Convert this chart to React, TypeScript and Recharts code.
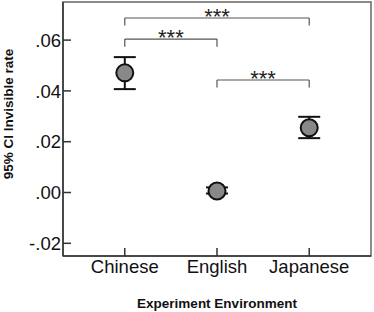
import { ScatterChart, Scatter, XAxis, YAxis, ErrorBar, ReferenceLine, ReferenceDot, ReferenceArea } from 'recharts';

const categories = ['Chinese', 'English', 'Japanese'];
const means = [0.0471, 0.0006, 0.0255];
const lower = [0.0407, -0.0004, 0.0214];
const upper = [0.0533, 0.002, 0.0298];
const yTicks = [-0.02, 0, 0.02, 0.04, 0.06];

// significance brackets (category index from/to, height in data units)
const bracketFrom = [0, 0, 1];
const bracketTo = [2, 1, 2];
const bracketLevel = [0.0687, 0.0604, 0.0443];
const bracketLabels = ['***', '***', '***'];

const X_DOMAIN: [number, number] = [0.33, 3.67];
const Y_DOMAIN: [number, number] = [-0.025, 0.075];
const LEG = 0.003;
const FONT = '"Liberation Sans", Arial, sans-serif';

const data = categories.map((name, i) => ({
  x: i + 1,
  y: means[i],
  err: [means[i] - lower[i], upper[i] - means[i]],
  name,
}));

const fmt = (v: number) => {
  if (v === 0) return '.00';
  return (v < 0 ? '-' : '') + Math.abs(v).toFixed(2).replace(/^0/, '');
};

const YTick = (props: any) => {
  const { x, y, payload } = props;
  return (
    <g>
      <line x1={x} x2={x + 8} y1={y} y2={y} stroke="#333" strokeWidth={1.5} />
      <text x={x - 2} y={y} dy="0.36em" textAnchor="end" fontSize={18.5} fontFamily={FONT} fill="#111">
        {fmt(payload.value)}
      </text>
    </g>
  );
};

const XTick = (props: any) => {
  const { x, y, payload } = props;
  return (
    <g>
      <line x1={x} x2={x} y1={y} y2={y - 8} stroke="#333" strokeWidth={1.5} />
      <text x={x} y={y + 17} textAnchor="middle" fontSize={18.5} fontFamily={FONT} fill="#111">
        {categories[payload.value - 1]}
      </text>
    </g>
  );
};

const YLabel = () => (
  <text
    transform="translate(13, 114) rotate(-90)"
    textAnchor="middle"
    fontSize={13.5}
    fontWeight="bold"
    fontFamily={FONT}
    fill="#111"
  >
    95% CI Invisible rate
  </text>
);

const Stars = (label: string) => (props: any) => (
  <text x={props.cx} y={props.cy + 6} textAnchor="middle" fontSize={22} fontFamily={FONT} fill="#222">
    {label}
  </text>
);

export default function App() {
  return (
    <div style={{ position: 'absolute', left: 0, top: 0, background: '#fff' }}>
      <ScatterChart width={374} height={312} margin={{ top: 2, right: 3, bottom: 0, left: 0 }}>
        <XAxis
          type="number"
          dataKey="x"
          domain={X_DOMAIN}
          ticks={[1, 2, 3]}
          tick={XTick}
          tickSize={0}
          tickMargin={0}
          tickLine={false}
          height={56}
          stroke="#333"
          strokeWidth={1.5}
          allowDataOverflow
          label={{
            value: 'Experiment Environment',
            position: 'insideBottom',
            offset: 4,
            style: { fontSize: 13.5, fontWeight: 'bold', fontFamily: FONT, fill: '#111' },
          }}
        />
        <YAxis
          type="number"
          dataKey="y"
          domain={Y_DOMAIN}
          ticks={yTicks}
          tick={YTick}
          tickSize={0}
          tickMargin={0}
          tickLine={false}
          width={63}
          stroke="#333"
          strokeWidth={1.5}
          allowDataOverflow
          label={{ content: YLabel }}
        />
        <ReferenceArea x1={X_DOMAIN[0]} x2={X_DOMAIN[1]} y1={Y_DOMAIN[0]} y2={Y_DOMAIN[1]} fill="none" stroke="#666" strokeWidth={1.5} />
        {bracketFrom.map((f, i) => {
          const a = f + 1;
          const b = bracketTo[i] + 1;
          const lv = bracketLevel[i];
          return [
            <ReferenceLine key={`h${i}`} segment={[{ x: a, y: lv }, { x: b, y: lv }]} stroke="#555" strokeWidth={1.2} />,
            <ReferenceLine key={`l${i}`} segment={[{ x: a, y: lv }, { x: a, y: lv - LEG }]} stroke="#555" strokeWidth={1.2} />,
            <ReferenceLine key={`r${i}`} segment={[{ x: b, y: lv }, { x: b, y: lv - LEG }]} stroke="#555" strokeWidth={1.2} />,
            <ReferenceDot key={`s${i}`} x={(a + b) / 2} y={lv} r={0} shape={Stars(bracketLabels[i])} />,
          ];
        })}
        <Scatter
          data={data}
          fill="#888"
          stroke="#111"
          strokeWidth={2}
          isAnimationActive={false}
          shape={(p: any) => <circle cx={p.cx} cy={p.cy} r={8.5} fill="#888" stroke="#111" strokeWidth={2} />}
        >
          <ErrorBar dataKey="err" direction="y" width={11} stroke="#111" strokeWidth={2} isAnimationActive={false} />
        </Scatter>
      </ScatterChart>
    </div>
  );
}
